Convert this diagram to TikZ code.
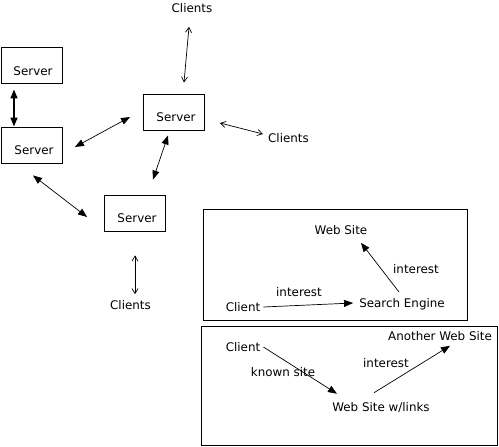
\documentclass[tikz,border=0pt]{standalone}
\usepackage{fontspec}
\setmainfont{DejaVu Sans}
\usetikzlibrary{arrows.meta}
\begin{document}
\begin{tikzpicture}[x=1pt,y=-1pt,
  box/.style={draw,line width=0.9pt,minimum width=61pt,minimum height=36pt,inner sep=0pt},
  lbl/.style={inner sep=0pt,font=\fontsize{11.9}{12}\selectfont},
  big/.style={line width=0.7pt,{Triangle[length=9pt,width=7pt]}-{Triangle[length=9pt,width=7pt]}},
  thin/.style={line width=0.7pt,{Straight Barb[length=5pt,width=6pt]}-{Straight Barb[length=5pt,width=6pt]}},
  one/.style={line width=0.7pt,-{Triangle[length=9pt,width=7pt]}}]
\useasboundingbox (0,0) rectangle (499,447);
% servers
\node[box] (s1) at (31.5,65) {};
\node[box] (s2) at (32,145) {};
\node[box] (s3) at (174,112) {};
\node[box] (s4) at (135,213) {};
\node[lbl] (t1) at (33,71) {Server};
\node[lbl] (t2) at (34,150.5) {Server};
\node[lbl] (t3) at (176,117.5) {Server};
\node[lbl] (t4) at (137,218) {Server};
% clients
\node[lbl] (c1) at (192,8) {Clients};
\node[lbl] (c2) at (288.5,138) {Clients};
\node[lbl] (c3) at (130.5,305.5) {Clients};
% server links
\draw[big,line width=1.4pt] ([shift={(-17.5,6)}]s1.south) -- ([shift={(-18,0)}]s2.north);
\draw[big] ([shift={(12,2)}]s2.east) -- ([shift={(-13,5)}]s3.west);
\draw[big] ([shift={(-6,5)}]s3.south) -- ([shift={(18,-15)}]s4.north);
\draw[big] ([shift={(1,12)}]s2.south) -- ([shift={(-17,4)}]s4.west);
% client links
\draw[thin] ([shift={(-3,14)}]c1.south) -- ([shift={(10,-11)}]s3.north);
\draw[thin] ([shift={(15,11)}]s3.east) -- ([shift={(-5,-4)}]c2.west);
\draw[thin] ([shift={(0,24)}]s4.south) -- ([shift={(4.5,-6.5)}]c3.north);
% panel A
\node[draw,line width=0.9pt,minimum width=264pt,minimum height=111pt,inner sep=0pt] (pa) at (335.3,264.8) {};
\node[lbl] (wa) at (341,230) {Web Site};
\node[lbl] (ia) at (416,269) {interest};
\node[lbl] (ib) at (299,292) {interest};
\node[lbl] (ca) at (243,307) {Client};
\node[lbl] (se) at (402,304) {Search Engine};
\draw[one] ([xshift=3]ca.east) -- ([xshift=-6,yshift=1]se.west);
\draw[one] ([shift={(-3,-6)}]se.north) -- ([shift={(20,8)}]wa.south);
% panel B
\node[draw,line width=0.9pt,minimum width=296pt,minimum height=119.5pt,inner sep=0pt] (pb) at (349.7,385.7) {};
\node[lbl] (cb) at (243,347) {Client};
\node[lbl] (ks) at (283,372) {known site};
\node[lbl] (ib2) at (386,363) {interest};
\node[lbl] (aw) at (440,336) {Another Web Site};
\node[lbl] (wl) at (381,408) {Web Site w/links};
\draw[one] ([shift={(3,0)}]cb.east) -- ([shift={(-44,-9)}]wl.north);
\draw[one] ([shift={(-7,-10)}]wl.north) -- ([shift={(10,5)}]aw.south);
\end{tikzpicture}
\end{document}
